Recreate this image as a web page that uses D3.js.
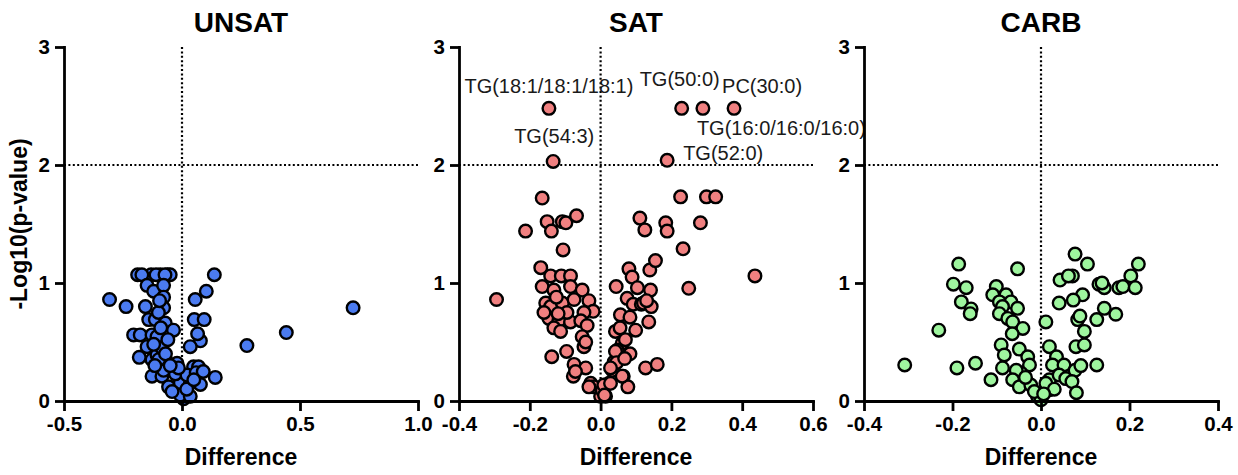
<!DOCTYPE html>
<html lang="en">
<head>
<meta charset="utf-8">
<script src="https://cdn.jsdelivr.net/npm/d3@7"></script>
<style>
  body { margin: 0; background: #fff; }
  svg { display: block; font-family: "Liberation Sans", Arial, Helvetica, sans-serif; }
</style>
</head>
<body>
<script>
// Volcano plots: difference vs -log10(p) for three diets
const panelTitles = ["UNSAT", "SAT", "CARB"];
const xDomains = [[-0.5, 1.0], [-0.4, 0.6], [-0.4, 0.4]];
const xTicks = [[-0.5, 0, 0.5, 1.0], [-0.4, -0.2, 0, 0.2, 0.4, 0.6], [-0.4, -0.2, 0, 0.2, 0.4]];
const yTicks = [0, 1, 2, 3];
const xLabel = "Difference";
const yLabel = "-Log10(p-value)";
const pointColors = ["#4b7bf0", "#f08080", "#9ef59e"];

// [difference, -log10(p)]
const unsatPoints = [
  [-0.188,1.07],[-0.131,1.07],[-0.092,1.07],[-0.061,1.07],[-0.050,1.07],[-0.170,1.07],[-0.110,1.07],[-0.072,1.07],[0.137,1.07],
  [-0.148,0.98],[-0.120,0.93],[-0.078,0.98],[-0.078,0.88],[-0.307,0.86],[-0.237,0.80],[-0.155,0.80],[-0.078,0.79],[0.056,0.86],[0.103,0.93],
  [-0.141,0.69],[-0.113,0.69],[-0.071,0.66],[-0.036,0.60],[0.052,0.69],[0.094,0.69],
  [-0.205,0.56],[-0.177,0.56],[-0.127,0.56],[-0.092,0.47],[0.078,0.51],[0.066,0.57],[0.035,0.46],
  [-0.181,0.37],[-0.127,0.35],[-0.106,0.39],[-0.064,0.33],[-0.021,0.32],[0.049,0.29],[0.070,0.29],[0.141,0.20],
  [-0.127,0.21],[-0.085,0.21],[-0.057,0.12],[-0.007,0.155],[0.035,0.15],[0.078,0.14],[0.007,0.02],[-0.007,0.05],[0.035,0.04],
  [-0.028,0.23],[0.021,0.22],[-0.078,0.26],[-0.099,0.35],[-0.042,0.08],[-0.148,0.46],[-0.106,0.545],[-0.085,0.45],
  [0.060,0.24],[0.090,0.25],[0.020,0.10],[-0.015,0.28],[0.050,0.18],
  [-0.100,0.75],[-0.090,0.62],[-0.120,0.48],[-0.070,0.40],[-0.050,0.30],[-0.115,0.30],[-0.060,0.52],[-0.095,0.85],
  [0.275,0.47],[0.442,0.58],[0.725,0.79]
];

const satPoints = [
  [-0.294,0.86],[-0.212,1.44],[-0.165,1.72],[-0.151,1.52],[-0.139,1.44],[-0.108,1.52],[-0.098,1.51],[-0.068,1.57],[-0.106,1.28],
  [-0.169,1.13],[-0.141,1.06],[-0.111,1.06],[-0.085,1.06],
  [-0.165,0.97],[-0.132,0.94],[-0.085,0.97],[-0.052,0.94],
  [-0.155,0.83],[-0.141,0.80],[-0.108,0.83],[-0.075,0.86],[-0.033,0.85],[-0.021,0.76],[-0.047,0.75],
  [-0.146,0.70],[-0.118,0.68],[-0.085,0.67],[-0.056,0.68],[-0.038,0.64],
  [-0.132,0.62],[-0.113,0.59],[-0.052,0.545],[-0.047,0.46],[-0.042,0.50],
  [-0.096,0.42],[-0.138,0.375],[-0.075,0.31],[-0.042,0.28],[-0.077,0.21],[-0.071,0.25],
  [-0.028,0.15],[-0.019,0.12],[-0.033,0.12],[0.009,0.065],[0.0,0.04],[0.014,0.04],[0.005,0.09],
  [-0.125,0.88],[-0.095,0.75],[-0.160,0.75],[-0.120,0.74],
  [0.044,0.97],[0.042,0.59],[0.056,0.73],[0.080,1.12],[0.089,1.05],[0.104,0.96],[0.075,0.87],[0.092,0.82],[0.115,0.82],[0.121,0.83],[0.143,0.80],
  [0.141,0.94],[0.139,1.11],[0.155,1.19],[0.136,0.67],[0.083,0.71],[0.099,0.60],[0.061,0.49],[0.047,0.43],[0.038,0.33],[0.083,0.40],
  [0.064,0.21],[0.077,0.12],[0.033,0.26],[0.024,0.15],[0.127,0.28],[0.160,0.31],
  [0.111,1.55],[0.125,1.45],[0.184,1.51],[0.188,1.44],[0.226,1.73],[0.233,1.29],[0.282,1.51],[0.299,1.73],[0.325,1.73],[0.249,0.955],[0.436,1.06],
  [0.042,0.42],[0.045,0.325],[0.028,0.28],[0.061,0.21],[0.009,0.135],[0.011,0.05],[0.028,0.15],[0.070,0.52],[0.055,0.62],[0.068,0.36],[0.130,0.85]
];

// named hits in SAT
const satHitNames = ["TG(18:1/18:1/18:1)", "TG(54:3)", "TG(50:0)", "TG(16:0/16:0/16:0)", "PC(30:0)", "TG(52:0)"];
const satHitDiff = [-0.146, -0.134, 0.229, 0.289, 0.377, 0.188];
const satHitLogP = [2.48, 2.03, 2.48, 2.48, 2.48, 2.04];

const carbPoints = [
  [-0.308,0.305],[-0.231,0.60],[-0.190,0.28],[-0.148,0.32],[-0.186,1.16],[-0.198,0.99],[-0.169,0.96],[-0.180,0.84],[-0.158,0.78],[-0.160,0.74],
  [-0.053,1.12],[-0.101,0.97],[-0.109,0.90],[-0.079,0.90],[-0.094,0.84],[-0.068,0.84],[-0.087,0.80],[-0.053,0.785],[-0.094,0.74],[-0.075,0.70],
  [-0.064,0.67],[-0.041,0.615],[-0.065,0.57],[-0.090,0.475],[-0.083,0.39],[-0.087,0.28],[-0.113,0.18],
  [-0.049,0.44],[-0.030,0.375],[-0.026,0.305],[-0.045,0.235],[-0.056,0.26],[-0.064,0.18],[-0.049,0.12],[-0.023,0.135],[-0.008,0.04],[0.0,0.01],[-0.015,0.08],[-0.035,0.20],
  [0.011,0.67],[0.019,0.46],[0.035,0.375],[0.026,0.305],[0.019,0.18],[0.019,0.095],[0.011,0.15],[0.052,0.305],[0.041,0.22],[0.056,0.19],[0.077,0.26],[0.070,0.165],[0.080,0.07],[0.126,0.305],
  [0.079,0.46],[0.098,0.475],[0.098,0.59],[0.083,0.69],[0.126,0.69],[0.094,0.90],[0.073,0.855],[0.041,0.83],[0.043,1.025],[0.071,1.06],[0.062,1.06],[0.077,1.245],[0.105,1.16],
  [0.131,0.99],[0.143,0.96],[0.138,1.0],[0.143,0.785],[0.169,0.735],[0.176,0.96],[0.185,0.97],[0.203,1.06],[0.213,0.96],[0.220,1.16],[0.088,0.72],[0.090,0.30],[0.030,0.10],[0.006,0.06]
];

const allPoints = [unsatPoints, satPoints, carbPoints];

// layout
const w = 1238, h = 475;
const plotLeft = [64, 459, 864];
const plotW = 354;
const plotTop = 47, plotBottom = 401;
const dotR = 6.3;
const dotStroke = 2.4;
// label placement relative to its point: [dx, dy, anchor]
const hitOffsets = {
  "TG(18:1/18:1/18:1)": [0, -15, "middle"],
  "TG(54:3)": [1, -18, "middle"],
  "TG(50:0)": [-2, -22, "middle"],
  "TG(16:0/16:0/16:0)": [-6, 27, "start"],
  "PC(30:0)": [-12, -15, "start"],
  "TG(52:0)": [16, 0, "start"]
};

const svg = d3.select("body").append("svg")
  .attr("width", w)
  .attr("height", h);

const yScale = d3.scaleLinear().domain([0, 3]).range([plotBottom, plotTop]);

panelTitles.forEach(function(title, i) {
  const x0 = plotLeft[i];
  const xScale = d3.scaleLinear().domain(xDomains[i]).range([x0, x0 + plotW]);
  const g = svg.append("g");

  // threshold lines
  g.append("line")
    .attr("x1", xScale(0)).attr("x2", xScale(0))
    .attr("y1", yScale(3)).attr("y2", yScale(0))
    .attr("stroke", "#000").attr("stroke-width", 2.2).attr("stroke-dasharray", "2,2.4");
  g.append("line")
    .attr("x1", x0).attr("x2", x0 + plotW)
    .attr("y1", yScale(2)).attr("y2", yScale(2))
    .attr("stroke", "#000").attr("stroke-width", 2.2).attr("stroke-dasharray", "2,2.4");

  // points
  g.append("g").selectAll("circle")
    .data(allPoints[i])
    .enter()
    .append("circle")
    .attr("cx", d => xScale(d[0]))
    .attr("cy", d => yScale(d[1]))
    .attr("r", dotR)
    .attr("fill", pointColors[i])
    .attr("stroke", "#000")
    .attr("stroke-width", dotStroke);

  if (title === "SAT") {
    const hits = satHitNames.map((n, k) => ({name: n, diff: satHitDiff[k], logp: satHitLogP[k]}));
    g.append("g").selectAll("circle")
      .data(hits)
      .enter()
      .append("circle")
      .attr("cx", d => xScale(d.diff))
      .attr("cy", d => yScale(d.logp))
      .attr("r", dotR)
      .attr("fill", pointColors[i])
      .attr("stroke", "#000")
      .attr("stroke-width", dotStroke);
    g.append("g").selectAll("text")
      .data(hits)
      .enter()
      .append("text")
      .attr("x", d => xScale(d.diff) + hitOffsets[d.name][0])
      .attr("y", d => yScale(d.logp) + hitOffsets[d.name][1])
      .attr("text-anchor", d => hitOffsets[d.name][2])
      .attr("font-size", "20px")
      .attr("fill", "#1a1a1a")
      .text(d => d.name);
  }

  // axes
  const xAxis = g.append("g")
    .attr("transform", "translate(0," + plotBottom + ")")
    .call(d3.axisBottom(xScale).tickValues(xTicks[i]).tickSize(10).tickSizeOuter(0).tickPadding(5)
      .tickFormat(d => d.toFixed(1)));
  const yAxis = g.append("g")
    .attr("transform", "translate(" + x0 + ",0)")
    .call(d3.axisLeft(yScale).tickValues(yTicks).tickSize(9).tickSizeOuter(0).tickPadding(5)
      .tickFormat(d3.format("d")));
  [xAxis, yAxis].forEach(function(a) {
    a.select(".domain").attr("stroke-width", 2.8).attr("stroke-linecap", "square");
    a.selectAll(".tick line").attr("stroke-width", 2.8);
    a.selectAll(".tick text")
      .attr("font-family", "'Liberation Sans', Arial, sans-serif")
      .attr("font-size", "20.5px")
      .attr("font-weight", "bold")
      .attr("fill", "#000");
  });

  // titles
  g.append("text")
    .attr("x", x0 + plotW / 2)
    .attr("y", 31.5)
    .attr("text-anchor", "middle")
    .attr("font-size", "28px")
    .attr("font-weight", "bold")
    .text(title);
  g.append("text")
    .attr("x", x0 + plotW / 2)
    .attr("y", 465)
    .attr("text-anchor", "middle")
    .attr("font-size", "23px")
    .attr("font-weight", "bold")
    .text(xLabel);
});

svg.append("text")
  .attr("transform", "translate(27,224) rotate(-90)")
  .attr("text-anchor", "middle")
  .attr("font-size", "23px")
  .attr("font-weight", "bold")
  .text(yLabel);
</script>
</body>
</html>
